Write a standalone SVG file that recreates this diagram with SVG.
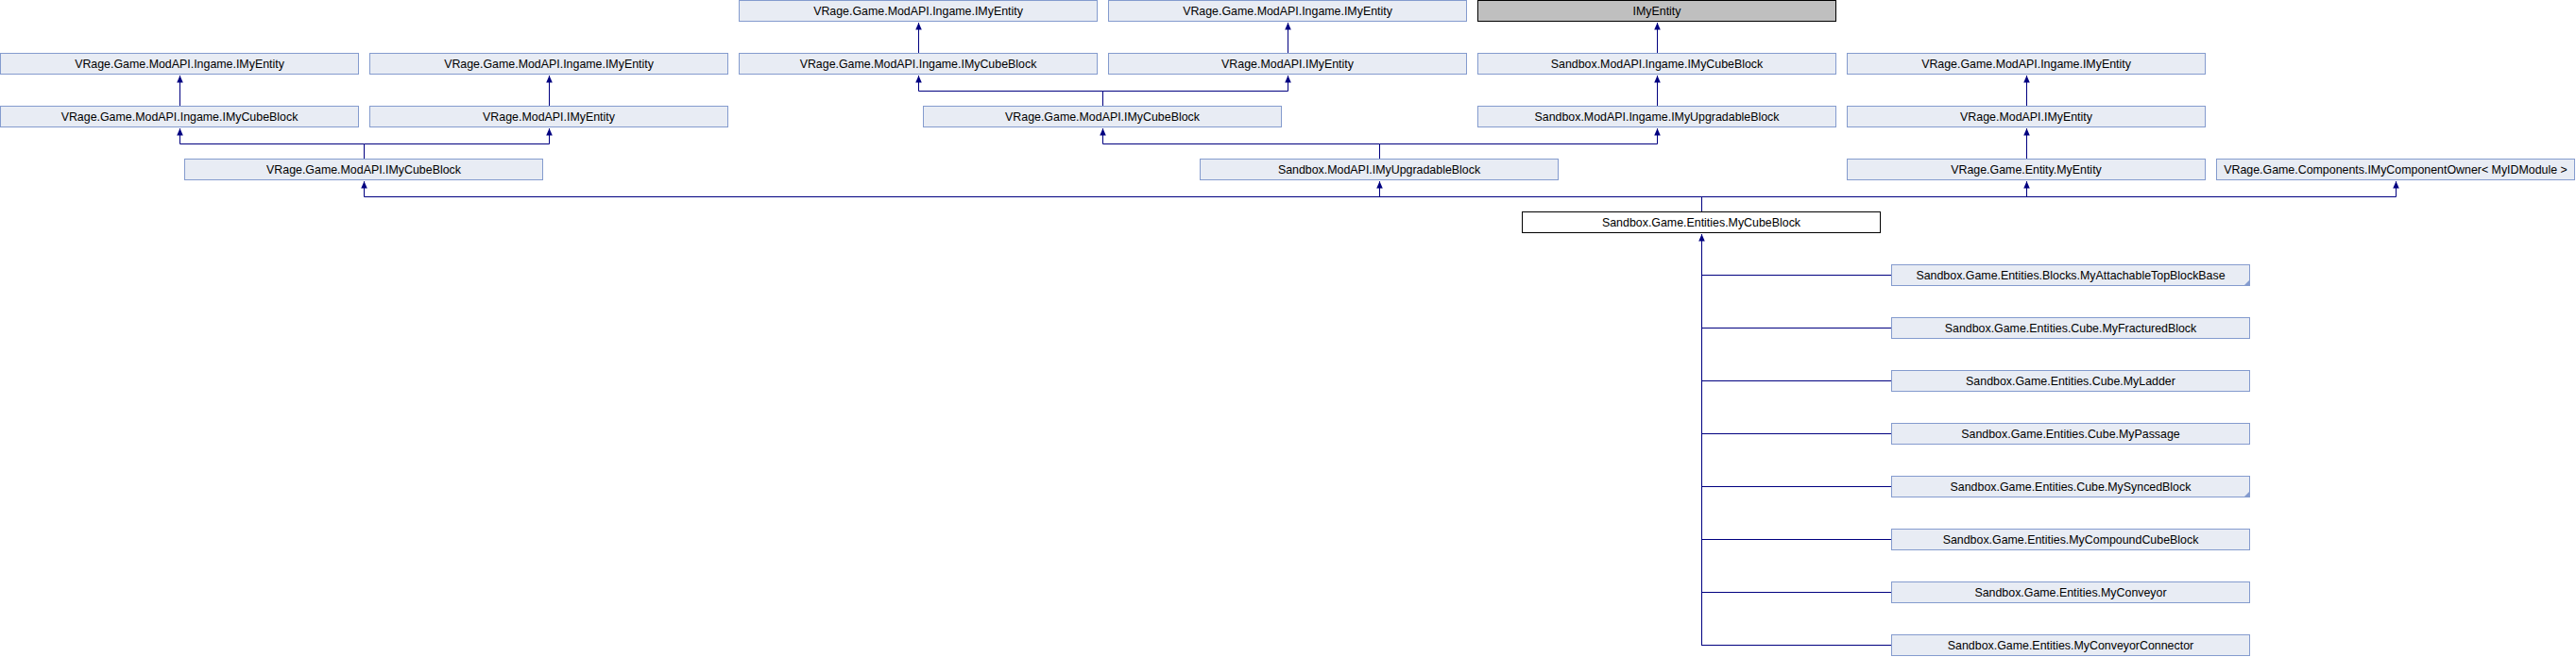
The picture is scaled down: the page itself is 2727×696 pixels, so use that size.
<svg xmlns="http://www.w3.org/2000/svg" width="2727" height="696" viewBox="0 0 2727 696">
<style>
.b{fill:#E8ECF4;stroke:#849BCE;stroke-width:1}
.g{fill:#BFBFBF;stroke:#000000;stroke-width:1}
.w{fill:#FFFFFF;stroke:#000000;stroke-width:1}
.t{font-family:"Liberation Sans",Arial,sans-serif;font-size:12.4px;fill:#000000;text-anchor:middle}
.c{fill:none;stroke:#000080;stroke-width:1}
.f{fill:#849BCE}
</style>
<defs>
<marker id="ar" markerUnits="userSpaceOnUse" markerWidth="10" markerHeight="10" refX="0" refY="0" viewBox="-7 -4 8 8" orient="auto" overflow="visible">
<path d="M0,0 L-6,-2.6 L-6,2.6 z" fill="#000080"/>
</marker>
</defs>
<rect width="2727" height="696" fill="#FFFFFF"/>
<g id="connectors">
<path class="c" marker-end="url(#ar)" d="M972.5 56 V24"/>
<path class="c" marker-end="url(#ar)" d="M1363.5 56 V24"/>
<path class="c" marker-end="url(#ar)" d="M1754.5 56 V24"/>
<path class="c" marker-end="url(#ar)" d="M190.5 112 V80"/>
<path class="c" marker-end="url(#ar)" d="M581.5 112 V80"/>
<path class="c" marker-end="url(#ar)" d="M1167.5 112 V96.5 H972.5 V80"/>
<path class="c" marker-end="url(#ar)" d="M1167.5 96.5 H1363.5 V80"/>
<path class="c" marker-end="url(#ar)" d="M1754.5 112 V80"/>
<path class="c" marker-end="url(#ar)" d="M2145.5 112 V80"/>
<path class="c" marker-end="url(#ar)" d="M385.5 168 V152.5 H190.5 V136"/>
<path class="c" marker-end="url(#ar)" d="M385.5 152.5 H581.5 V136"/>
<path class="c" marker-end="url(#ar)" d="M1460.5 168 V152.5 H1167.5 V136"/>
<path class="c" marker-end="url(#ar)" d="M1460.5 152.5 H1754.5 V136"/>
<path class="c" marker-end="url(#ar)" d="M2145.5 168 V136"/>
<path class="c" marker-end="url(#ar)" d="M1801.5 224 V208.5 H385.5 V192"/>
<path class="c" marker-end="url(#ar)" d="M1801.5 208.5 H1460.5 V192"/>
<path class="c" marker-end="url(#ar)" d="M1801.5 208.5 H2145.5 V192"/>
<path class="c" marker-end="url(#ar)" d="M1801.5 208.5 H2536.5 V192"/>
<path class="c" marker-end="url(#ar)" d="M1801.5 684 V248"/>
<path class="c" d="M1801.5 291.5 H2002 M1801.5 347.5 H2002 M1801.5 403.5 H2002 M1801.5 459.5 H2002 M1801.5 515.5 H2002 M1801.5 571.5 H2002 M1801.5 627.5 H2002 M1801.5 683.5 H2002"/>
</g>
<g id="n1a"><rect class="b" x="782.5" y="0.5" width="379" height="22"/><text class="t" x="972" y="15.5">VRage.Game.ModAPI.Ingame.IMyEntity</text></g>
<g id="n1b"><rect class="b" x="1173.5" y="0.5" width="379" height="22"/><text class="t" x="1363" y="15.5">VRage.Game.ModAPI.Ingame.IMyEntity</text></g>
<g id="n1c"><rect class="g" x="1564.5" y="0.5" width="379" height="22"/><text class="t" x="1754" y="15.5">IMyEntity</text></g>
<g id="n2a"><rect class="b" x="0.5" y="56.5" width="379" height="22"/><text class="t" x="190" y="71.5">VRage.Game.ModAPI.Ingame.IMyEntity</text></g>
<g id="n2b"><rect class="b" x="391.5" y="56.5" width="379" height="22"/><text class="t" x="581" y="71.5">VRage.Game.ModAPI.Ingame.IMyEntity</text></g>
<g id="n2c"><rect class="b" x="782.5" y="56.5" width="379" height="22"/><text class="t" x="972" y="71.5">VRage.Game.ModAPI.Ingame.IMyCubeBlock</text></g>
<g id="n2d"><rect class="b" x="1173.5" y="56.5" width="379" height="22"/><text class="t" x="1363" y="71.5">VRage.ModAPI.IMyEntity</text></g>
<g id="n2e"><rect class="b" x="1564.5" y="56.5" width="379" height="22"/><text class="t" x="1754" y="71.5">Sandbox.ModAPI.Ingame.IMyCubeBlock</text></g>
<g id="n2f"><rect class="b" x="1955.5" y="56.5" width="379" height="22"/><text class="t" x="2145" y="71.5">VRage.Game.ModAPI.Ingame.IMyEntity</text></g>
<g id="n3a"><rect class="b" x="0.5" y="112.5" width="379" height="22"/><text class="t" x="190" y="127.5">VRage.Game.ModAPI.Ingame.IMyCubeBlock</text></g>
<g id="n3b"><rect class="b" x="391.5" y="112.5" width="379" height="22"/><text class="t" x="581" y="127.5">VRage.ModAPI.IMyEntity</text></g>
<g id="n3c"><rect class="b" x="977.5" y="112.5" width="379" height="22"/><text class="t" x="1167" y="127.5">VRage.Game.ModAPI.IMyCubeBlock</text></g>
<g id="n3d"><rect class="b" x="1564.5" y="112.5" width="379" height="22"/><text class="t" x="1754" y="127.5">Sandbox.ModAPI.Ingame.IMyUpgradableBlock</text></g>
<g id="n3e"><rect class="b" x="1955.5" y="112.5" width="379" height="22"/><text class="t" x="2145" y="127.5">VRage.ModAPI.IMyEntity</text></g>
<g id="n4a"><rect class="b" x="195.5" y="168.5" width="379" height="22"/><text class="t" x="385" y="183.5">VRage.Game.ModAPI.IMyCubeBlock</text></g>
<g id="n4b"><rect class="b" x="1270.5" y="168.5" width="379" height="22"/><text class="t" x="1460" y="183.5">Sandbox.ModAPI.IMyUpgradableBlock</text></g>
<g id="n4c"><rect class="b" x="1955.5" y="168.5" width="379" height="22"/><text class="t" x="2145" y="183.5">VRage.Game.Entity.MyEntity</text></g>
<g id="n4d"><rect class="b" x="2346.5" y="168.5" width="379" height="22"/><text class="t" x="2536" y="183.5">VRage.Game.Components.IMyComponentOwner&lt; MyIDModule &gt;</text></g>
<g id="n5"><rect class="w" x="1611.5" y="224.5" width="379" height="22"/><text class="t" x="1801" y="239.5">Sandbox.Game.Entities.MyCubeBlock</text></g>
<g id="c1"><rect class="b" x="2002.5" y="280.5" width="379" height="22"/><polygon class="f" points="2382,296 2382,303 2375,303"/><text class="t" x="2192" y="295.5">Sandbox.Game.Entities.Blocks.MyAttachableTopBlockBase</text></g>
<g id="c2"><rect class="b" x="2002.5" y="336.5" width="379" height="22"/><text class="t" x="2192" y="351.5">Sandbox.Game.Entities.Cube.MyFracturedBlock</text></g>
<g id="c3"><rect class="b" x="2002.5" y="392.5" width="379" height="22"/><text class="t" x="2192" y="407.5">Sandbox.Game.Entities.Cube.MyLadder</text></g>
<g id="c4"><rect class="b" x="2002.5" y="448.5" width="379" height="22"/><text class="t" x="2192" y="463.5">Sandbox.Game.Entities.Cube.MyPassage</text></g>
<g id="c5"><rect class="b" x="2002.5" y="504.5" width="379" height="22"/><polygon class="f" points="2382,520 2382,527 2375,527"/><text class="t" x="2192" y="519.5">Sandbox.Game.Entities.Cube.MySyncedBlock</text></g>
<g id="c6"><rect class="b" x="2002.5" y="560.5" width="379" height="22"/><text class="t" x="2192" y="575.5">Sandbox.Game.Entities.MyCompoundCubeBlock</text></g>
<g id="c7"><rect class="b" x="2002.5" y="616.5" width="379" height="22"/><text class="t" x="2192" y="631.5">Sandbox.Game.Entities.MyConveyor</text></g>
<g id="c8"><rect class="b" x="2002.5" y="672.5" width="379" height="22"/><text class="t" x="2192" y="687.5">Sandbox.Game.Entities.MyConveyorConnector</text></g>
</svg>
